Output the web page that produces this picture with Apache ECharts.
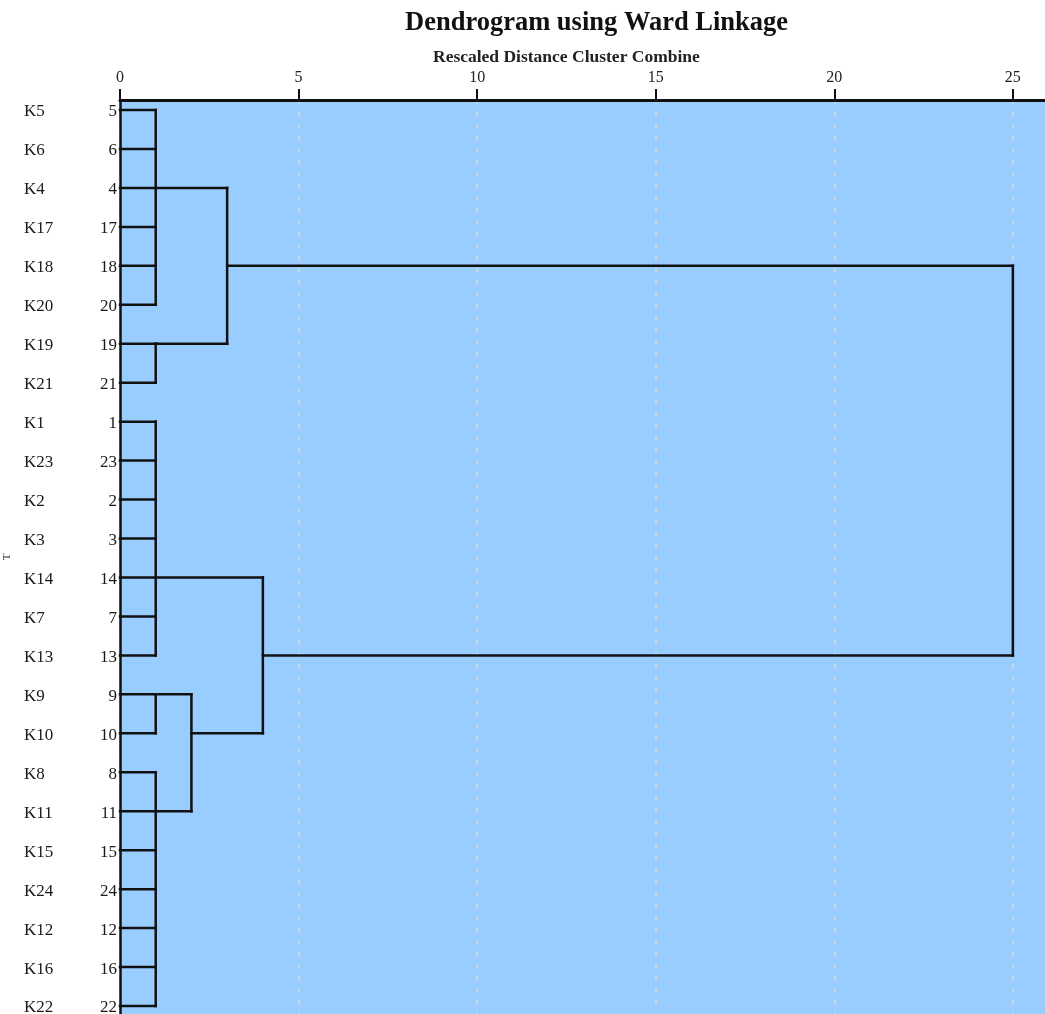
<!DOCTYPE html>
<html>
<head>
<meta charset="utf-8">
<title>Dendrogram using Ward Linkage</title>
<script src="https://cdn.jsdelivr.net/npm/echarts@6/dist/echarts.min.js"></script>
<style>
  html, body { margin: 0; padding: 0; background: #fff; }
  #chart { width: 1045px; height: 1014px; }
</style>
</head>
<body>
<div id="chart"></div>
<script>
// Cases in dendrogram order (top to bottom)
const caseLabels = ['K5','K6','K4','K17','K18','K20','K19','K21','K1','K23','K2','K3',
                    'K14','K7','K13','K9','K10','K8','K11','K15','K24','K12','K16','K22'];
const caseNumbers = [5,6,4,17,18,20,19,21,1,23,2,3,14,7,13,9,10,8,11,15,24,12,16,22];

// Agglomeration: clusters, what they join, rescaled distance, and the case row that carries the connector
const mergeNames     = ['A','B','C','D1','D2','AB','D','CD','ALL'];
const mergeChildren  = [
  ['K5','K6','K4','K17','K18','K20'],
  ['K19','K21'],
  ['K1','K23','K2','K3','K14','K7','K13'],
  ['K9','K10'],
  ['K8','K11','K15','K24','K12','K16','K22'],
  ['A','B'],
  ['D1','D2'],
  ['C','D'],
  ['AB','CD']
];
const mergeDistances = [1, 1, 1, 1, 1, 3, 2, 4, 25];
const mergeAnchors   = ['K4','K19','K14','K9','K11','K18','K10','K13', null];

// Rescaled distance axis ticks
const distanceTicks = [0, 5, 10, 15, 20, 25];

// Build the dendrogram segments [x1, row1, x2, row2]
const nodeRow = {};
const nodeHeight = {};
caseLabels.forEach((k, i) => { nodeRow[k] = i; nodeHeight[k] = 0; });
const segments = [];
mergeNames.forEach((name, m) => {
  const d = mergeDistances[m];
  const rows = [];
  mergeChildren[m].forEach(c => {
    const r = nodeRow[c];
    rows.push(r);
    segments.push([nodeHeight[c], r, d, r]);
  });
  segments.push([d, Math.min(...rows), d, Math.max(...rows)]);
  nodeRow[name] = mergeAnchors[m] ? nodeRow[mergeAnchors[m]] : null;
  nodeHeight[name] = d;
});

const chart = echarts.init(document.getElementById('chart'));
const serif = 'Liberation Serif, Times New Roman, serif';

chart.setOption({
  backgroundColor: '#ffffff',
  animation: false,
  title: [
    {
      text: 'Dendrogram using Ward Linkage',
      left: 400, top: 5,
      textStyle: { fontFamily: serif, fontSize: 26.5, fontWeight: 'bold', color: '#111' }
    },
    {
      text: 'Rescaled Distance Cluster Combine',
      left: 428, top: 43,
      textStyle: { fontFamily: serif, fontSize: 17.5, fontWeight: 'bold', color: '#222' }
    }
  ],
  grid: {
    left: 120, right: 0, top: 100, bottom: 0,
    outerBoundsMode: 'none',
    show: true, backgroundColor: '#99ccff', borderWidth: 0
  },
  xAxis: {
    type: 'value',
    position: 'top',
    min: 0, max: 25.9, interval: 5,
    axisLine: { show: true, onZero: false, lineStyle: { color: '#111', width: 3 } },
    axisTick: { show: true, length: 11, customValues: distanceTicks, lineStyle: { color: '#111', width: 2 } },
    axisLabel: {
      margin: 14, fontFamily: serif, fontSize: 16, color: '#222',
      customValues: distanceTicks
    },
    splitLine: { show: true, lineStyle: { color: '#d4d8dc', width: 1.5, type: [5, 7] } }
  },
  yAxis: {
    type: 'value',
    inverse: true,
    min: -0.257, max: 23.205,
    name: 'T',
    nameLocation: 'middle',
    nameRotate: 90,
    nameGap: 7,
    nameTextStyle: { fontFamily: serif, fontSize: 11, color: '#222' },
    axisLine: { show: true, onZero: false, lineStyle: { color: '#111', width: 2.5 } },
    axisTick: { show: false },
    splitLine: { show: false },
    axisLabel: {
      margin: 3,
      customValues: caseLabels.map((_, i) => i),
      formatter: v => '{k|' + caseLabels[v] + '}{n|' + caseNumbers[v] + '}',
      rich: {
        k: { width: 65, align: 'left', padding: [4, 0, 0, 0], fontFamily: serif, fontSize: 17, color: '#1a1a1a' },
        n: { width: 28, align: 'right', padding: [4, 0, 0, 0], fontFamily: serif, fontSize: 17, color: '#1a1a1a' }
      }
    }
  },
  series: [{
    type: 'custom',
    clip: false,
    encode: { x: [0, 2], y: [1, 3] },
    data: segments,
    renderItem: (params, api) => {
      const p1 = api.coord([api.value(0), api.value(1)]);
      const p2 = api.coord([api.value(2), api.value(3)]);
      return {
        type: 'line',
        shape: { x1: p1[0], y1: p1[1], x2: p2[0], y2: p2[1] },
        style: { stroke: '#111', lineWidth: 2.5, lineCap: 'square' }
      };
    }
  }]
});
</script>
</body>
</html>
